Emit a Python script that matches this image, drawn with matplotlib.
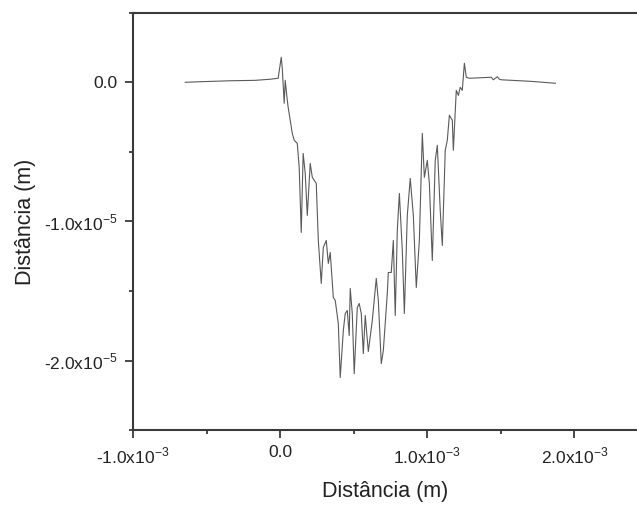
import numpy as np
import matplotlib
matplotlib.use("Agg")
import matplotlib.pyplot as plt
from matplotlib.ticker import MultipleLocator, FuncFormatter

plt.rcParams['font.family'] = ['Liberation Sans', 'DejaVu Sans']
plt.rcParams['mathtext.fontset'] = 'custom'
plt.rcParams['mathtext.rm'] = 'Liberation Sans'

# profile across the groove: x in units of 1e-3 m, depth in units of 1e-5 m
x_mm = [-0.646, -0.544, -0.340, -0.170, -0.068, -0.014, 0.007, 0.014, 0.027,
        0.034, 0.048, 0.054, 0.068, 0.082, 0.095, 0.116, 0.129, 0.143, 0.156,
        0.170, 0.184, 0.204, 0.218, 0.245, 0.259, 0.279, 0.293, 0.313, 0.327,
        0.340, 0.361, 0.374, 0.395, 0.408, 0.429, 0.442, 0.456, 0.469, 0.476,
        0.490, 0.503, 0.524, 0.537, 0.551, 0.565, 0.578, 0.599, 0.626, 0.653,
        0.667, 0.687, 0.701, 0.728, 0.735, 0.755, 0.769, 0.782, 0.796, 0.810,
        0.830, 0.844, 0.864, 0.884, 0.905, 0.925, 0.946, 0.966, 0.980, 1.000,
        1.014, 1.034, 1.054, 1.068, 1.088, 1.102, 1.122, 1.136, 1.150, 1.170,
        1.177, 1.197, 1.211, 1.224, 1.238, 1.252, 1.265, 1.286, 1.435, 1.449,
        1.476, 1.490, 1.503, 1.701, 1.871]
depth = [0.000, 0.004, 0.011, 0.014, 0.022, 0.029, 0.180, 0.101, -0.151,
         0.014, -0.129, -0.180, -0.273, -0.367, -0.417, -0.439, -0.612, -1.079,
         -0.511, -0.655, -0.957, -0.583, -0.683, -0.727, -1.137, -1.446, -1.187,
         -1.137, -1.302, -1.223, -1.547, -1.568, -1.734, -2.122, -1.784, -1.662,
         -1.640, -1.820, -1.482, -1.662, -2.094, -1.619, -1.590, -1.662, -1.950,
         -1.676, -1.935, -1.712, -1.410, -1.568, -2.022, -1.928, -1.518, -1.367,
         -1.367, -1.137, -1.676, -1.065, -0.799, -1.209, -1.662, -0.957, -0.691,
         -0.957, -1.475, -1.137, -0.367, -0.683, -0.561, -0.727, -1.281, -0.561,
         -0.453, -0.921, -1.173, -0.489, -0.417, -0.237, -0.273, -0.489, -0.058,
         -0.094, -0.036, -0.058, 0.137, 0.036, 0.029, 0.036, 0.018, 0.040,
         0.022, 0.018, 0.007, -0.007]

x = np.array(x_mm) * 1e-3
y = np.array(depth) * 1e-5


def sci_label(v, exp):
    if abs(v) < 1e-12:
        return '0.0'
    return r'%.1fx10$^{\mathregular{%d}}$' % (v / 10 ** exp, exp)


fig = plt.figure(figsize=(6.37, 5.09), dpi=100)
ax = fig.add_axes([0.209, 0.155, 0.792, 0.820])

ax.plot(x, y, color='#5a5a5a', lw=0.8)

ax.set_xlim(-1.0e-3, 2.43e-3)
ax.set_ylim(-2.5e-5, 0.5e-5)

ax.xaxis.set_major_locator(MultipleLocator(1e-3))
ax.xaxis.set_minor_locator(MultipleLocator(0.5e-3))
ax.yaxis.set_major_locator(MultipleLocator(1e-5))
ax.yaxis.set_minor_locator(MultipleLocator(0.5e-5))
ax.xaxis.set_major_formatter(FuncFormatter(lambda v, p: sci_label(v, -3)))
ax.yaxis.set_major_formatter(FuncFormatter(lambda v, p: sci_label(v, -5)))

ax.spines['right'].set_visible(False)
for s in ['left', 'bottom', 'top']:
    ax.spines[s].set_color('#3a3a3a')
    ax.spines[s].set_linewidth(1.5)

ax.tick_params(which='both', direction='out', color='#3a3a3a', width=1.3,
               labelsize=12.5, labelcolor='#222222', top=False, right=False)
ax.tick_params(which='major', length=6, pad=5)
ax.tick_params(which='minor', length=3)

ax.set_xlabel('Distância (m)', fontsize=15.5, color='#222222', labelpad=11)
ax.set_ylabel('Distância (m)', fontsize=15.5, color='#222222', labelpad=6)

fig.savefig('out.png', dpi=100)
